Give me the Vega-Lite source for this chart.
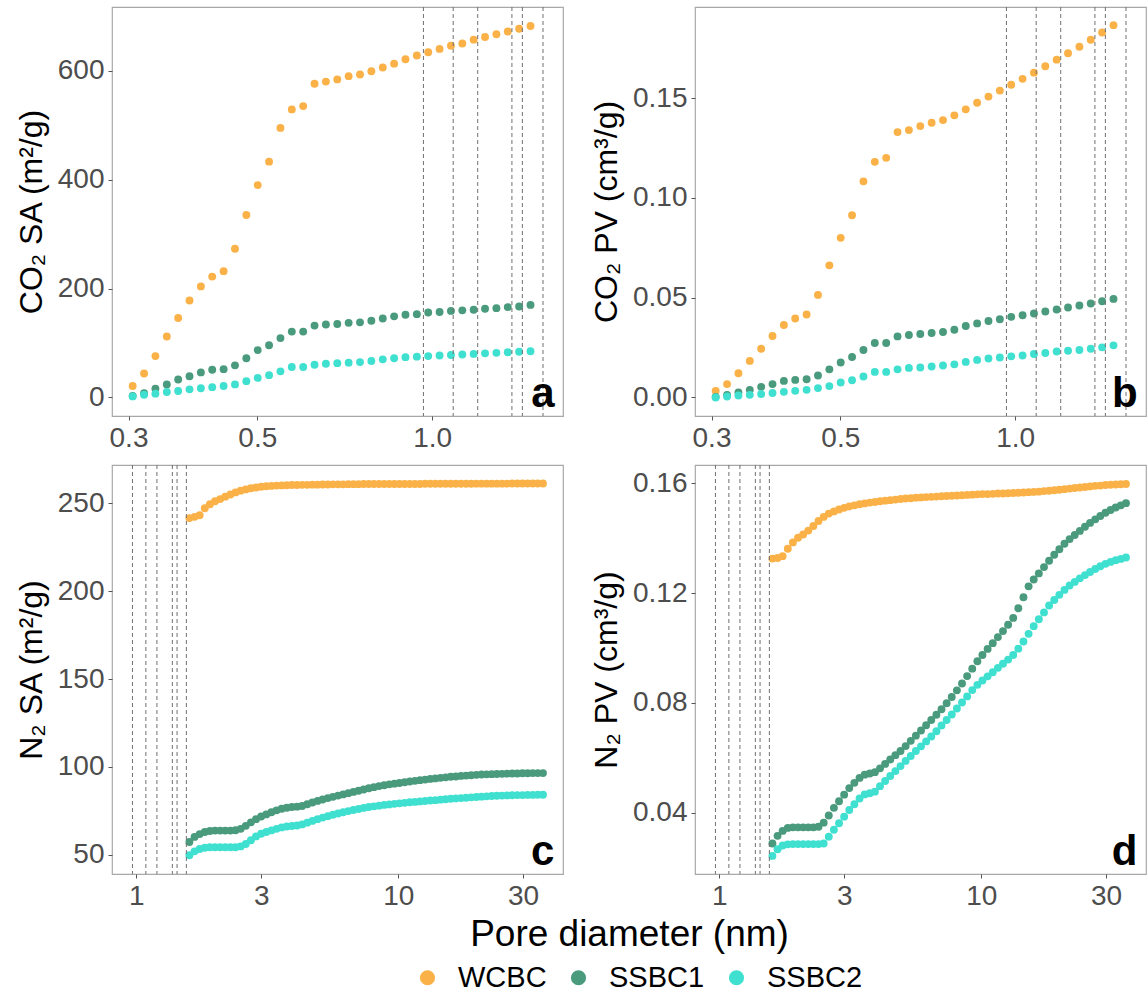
{
  "$schema": "https://vega.github.io/schema/vega-lite/v6.json",
  "padding": {"left": 14, "top": 5, "right": 0, "bottom": 0},
  "background": "white",
  "columns": 2,
  "spacing": {"row": 49, "column": 132},
  "bounds": "flush",
  "datasets": {
    "vlines": [{"d": 0.966}, {"d": 1.087}, {"d": 1.198}, {"d": 1.372}, {"d": 1.43}, {"d": 1.552}],
    "co2sa": [
      {"d":0.305,"WCBC":21,"SSBC1":3,"SSBC2":2},
      {"d":0.3191,"WCBC":44,"SSBC1":8,"SSBC2":5},
      {"d":0.3338,"WCBC":76,"SSBC1":16,"SSBC2":7},
      {"d":0.3492,"WCBC":112,"SSBC1":24,"SSBC2":10},
      {"d":0.3653,"WCBC":146,"SSBC1":33,"SSBC2":12},
      {"d":0.3821,"WCBC":178,"SSBC1":39,"SSBC2":15},
      {"d":0.3997,"WCBC":204,"SSBC1":46,"SSBC2":17},
      {"d":0.4181,"WCBC":222,"SSBC1":51,"SSBC2":19},
      {"d":0.4374,"WCBC":232,"SSBC1":52,"SSBC2":21},
      {"d":0.4576,"WCBC":273,"SSBC1":59,"SSBC2":24},
      {"d":0.4787,"WCBC":335,"SSBC1":72,"SSBC2":30},
      {"d":0.5007,"WCBC":390,"SSBC1":87,"SSBC2":36},
      {"d":0.5238,"WCBC":433,"SSBC1":96,"SSBC2":41},
      {"d":0.548,"WCBC":495,"SSBC1":109,"SSBC2":48},
      {"d":0.5732,"WCBC":529,"SSBC1":121,"SSBC2":56},
      {"d":0.5997,"WCBC":535,"SSBC1":121,"SSBC2":56},
      {"d":0.6273,"WCBC":576,"SSBC1":132,"SSBC2":60},
      {"d":0.6562,"WCBC":580,"SSBC1":134,"SSBC2":62},
      {"d":0.6865,"WCBC":584,"SSBC1":135,"SSBC2":63},
      {"d":0.7181,"WCBC":590,"SSBC1":137,"SSBC2":64},
      {"d":0.7512,"WCBC":593,"SSBC1":138,"SSBC2":65},
      {"d":0.7858,"WCBC":599,"SSBC1":141,"SSBC2":67},
      {"d":0.8221,"WCBC":606,"SSBC1":145,"SSBC2":70},
      {"d":0.86,"WCBC":613,"SSBC1":149,"SSBC2":72},
      {"d":0.8996,"WCBC":621,"SSBC1":152,"SSBC2":74},
      {"d":0.9411,"WCBC":628,"SSBC1":153,"SSBC2":75},
      {"d":0.9845,"WCBC":634,"SSBC1":156,"SSBC2":76},
      {"d":1.0299,"WCBC":640,"SSBC1":157,"SSBC2":77},
      {"d":1.0773,"WCBC":646,"SSBC1":159,"SSBC2":78},
      {"d":1.127,"WCBC":650,"SSBC1":160,"SSBC2":79},
      {"d":1.1789,"WCBC":657,"SSBC1":161,"SSBC2":80},
      {"d":1.2333,"WCBC":662,"SSBC1":163,"SSBC2":81},
      {"d":1.2901,"WCBC":667,"SSBC1":164,"SSBC2":82},
      {"d":1.3496,"WCBC":672,"SSBC1":166,"SSBC2":83},
      {"d":1.4118,"WCBC":677,"SSBC1":167,"SSBC2":84},
      {"d":1.4769,"WCBC":682,"SSBC1":170,"SSBC2":85}
    ],
    "co2pv": [
      {"d":0.305,"WCBC":0.0033,"SSBC1":0.0003,"SSBC2":0.0},
      {"d":0.3191,"WCBC":0.0067,"SSBC1":0.0013,"SSBC2":0.0005},
      {"d":0.3338,"WCBC":0.0121,"SSBC1":0.0025,"SSBC2":0.001},
      {"d":0.3492,"WCBC":0.0183,"SSBC1":0.0038,"SSBC2":0.0013},
      {"d":0.3653,"WCBC":0.0244,"SSBC1":0.0053,"SSBC2":0.0017},
      {"d":0.3821,"WCBC":0.0308,"SSBC1":0.0067,"SSBC2":0.0022},
      {"d":0.3997,"WCBC":0.0363,"SSBC1":0.0083,"SSBC2":0.0028},
      {"d":0.4181,"WCBC":0.0396,"SSBC1":0.0088,"SSBC2":0.0033},
      {"d":0.4374,"WCBC":0.0416,"SSBC1":0.0091,"SSBC2":0.0038},
      {"d":0.4576,"WCBC":0.0514,"SSBC1":0.011,"SSBC2":0.0047},
      {"d":0.4787,"WCBC":0.0662,"SSBC1":0.0141,"SSBC2":0.0057},
      {"d":0.5007,"WCBC":0.08,"SSBC1":0.0175,"SSBC2":0.0075},
      {"d":0.5238,"WCBC":0.0913,"SSBC1":0.0203,"SSBC2":0.0086},
      {"d":0.548,"WCBC":0.1083,"SSBC1":0.0238,"SSBC2":0.0105},
      {"d":0.5732,"WCBC":0.1181,"SSBC1":0.0273,"SSBC2":0.0128},
      {"d":0.5997,"WCBC":0.1201,"SSBC1":0.0273,"SSBC2":0.0128},
      {"d":0.6273,"WCBC":0.133,"SSBC1":0.0306,"SSBC2":0.0141},
      {"d":0.6562,"WCBC":0.134,"SSBC1":0.0313,"SSBC2":0.0148},
      {"d":0.6865,"WCBC":0.136,"SSBC1":0.0318,"SSBC2":0.015},
      {"d":0.7181,"WCBC":0.1377,"SSBC1":0.0323,"SSBC2":0.0155},
      {"d":0.7512,"WCBC":0.139,"SSBC1":0.0328,"SSBC2":0.016},
      {"d":0.7858,"WCBC":0.1414,"SSBC1":0.0339,"SSBC2":0.0166},
      {"d":0.8221,"WCBC":0.1444,"SSBC1":0.0358,"SSBC2":0.0178},
      {"d":0.86,"WCBC":0.1477,"SSBC1":0.0371,"SSBC2":0.0188},
      {"d":0.8996,"WCBC":0.1508,"SSBC1":0.0383,"SSBC2":0.0195},
      {"d":0.9411,"WCBC":0.1538,"SSBC1":0.0392,"SSBC2":0.02},
      {"d":0.9845,"WCBC":0.1567,"SSBC1":0.0404,"SSBC2":0.0206},
      {"d":1.0299,"WCBC":0.1597,"SSBC1":0.0412,"SSBC2":0.021},
      {"d":1.0773,"WCBC":0.1628,"SSBC1":0.0421,"SSBC2":0.0218},
      {"d":1.127,"WCBC":0.166,"SSBC1":0.0431,"SSBC2":0.0223},
      {"d":1.1789,"WCBC":0.1693,"SSBC1":0.0441,"SSBC2":0.023},
      {"d":1.2333,"WCBC":0.1725,"SSBC1":0.0451,"SSBC2":0.0234},
      {"d":1.2901,"WCBC":0.1758,"SSBC1":0.0461,"SSBC2":0.0238},
      {"d":1.3496,"WCBC":0.1793,"SSBC1":0.0471,"SSBC2":0.0244},
      {"d":1.4118,"WCBC":0.1829,"SSBC1":0.0482,"SSBC2":0.0251},
      {"d":1.4769,"WCBC":0.1866,"SSBC1":0.0494,"SSBC2":0.0261}
    ],
    "n2sa": [
      {"d":1.594,"WCBC":241.6,"SSBC1":57.3,"SSBC2":49.8},
      {"d":1.668,"WCBC":242.3,"SSBC1":60.2,"SSBC2":52.0},
      {"d":1.744,"WCBC":243.2,"SSBC1":61.8,"SSBC2":53.3},
      {"d":1.825,"WCBC":247.2,"SSBC1":63.0,"SSBC2":54.0},
      {"d":1.909,"WCBC":249.5,"SSBC1":63.6,"SSBC2":54.3},
      {"d":1.997,"WCBC":251.2,"SSBC1":63.8,"SSBC2":54.3},
      {"d":2.089,"WCBC":252.4,"SSBC1":63.8,"SSBC2":54.3},
      {"d":2.185,"WCBC":253.8,"SSBC1":63.8,"SSBC2":54.3},
      {"d":2.286,"WCBC":255.0,"SSBC1":63.8,"SSBC2":54.3},
      {"d":2.391,"WCBC":256.2,"SSBC1":64.0,"SSBC2":54.3},
      {"d":2.502,"WCBC":257.2,"SSBC1":64.8,"SSBC2":54.8},
      {"d":2.617,"WCBC":257.9,"SSBC1":66.5,"SSBC2":56.2},
      {"d":2.738,"WCBC":258.6,"SSBC1":68.5,"SSBC2":58.3},
      {"d":2.864,"WCBC":259.0,"SSBC1":70.3,"SSBC2":60.5},
      {"d":2.996,"WCBC":259.4,"SSBC1":71.8,"SSBC2":62.0},
      {"d":3.134,"WCBC":259.7,"SSBC1":73.0,"SSBC2":63.0},
      {"d":3.278,"WCBC":259.9,"SSBC1":74.2,"SSBC2":63.9},
      {"d":3.43,"WCBC":260.1,"SSBC1":75.3,"SSBC2":64.8},
      {"d":3.588,"WCBC":260.2,"SSBC1":76.2,"SSBC2":65.6},
      {"d":3.753,"WCBC":260.3,"SSBC1":76.8,"SSBC2":66.1},
      {"d":3.926,"WCBC":260.4,"SSBC1":77.2,"SSBC2":66.4},
      {"d":4.107,"WCBC":260.4,"SSBC1":77.4,"SSBC2":66.7},
      {"d":4.296,"WCBC":260.5,"SSBC1":77.8,"SSBC2":67.3},
      {"d":4.494,"WCBC":260.5,"SSBC1":78.8,"SSBC2":68.3},
      {"d":4.702,"WCBC":260.6,"SSBC1":79.8,"SSBC2":69.3},
      {"d":4.918,"WCBC":260.6,"SSBC1":80.7,"SSBC2":70.3},
      {"d":5.145,"WCBC":260.7,"SSBC1":81.5,"SSBC2":71.2},
      {"d":5.382,"WCBC":260.7,"SSBC1":82.3,"SSBC2":72.0},
      {"d":5.63,"WCBC":260.8,"SSBC1":83.0,"SSBC2":72.8},
      {"d":5.89,"WCBC":260.8,"SSBC1":83.7,"SSBC2":73.5},
      {"d":6.161,"WCBC":260.8,"SSBC1":84.4,"SSBC2":74.2},
      {"d":6.445,"WCBC":260.9,"SSBC1":85.1,"SSBC2":74.9},
      {"d":6.743,"WCBC":260.9,"SSBC1":85.8,"SSBC2":75.5},
      {"d":7.053,"WCBC":260.9,"SSBC1":86.5,"SSBC2":76.1},
      {"d":7.379,"WCBC":261.0,"SSBC1":87.2,"SSBC2":76.7},
      {"d":7.719,"WCBC":261.0,"SSBC1":87.9,"SSBC2":77.2},
      {"d":8.074,"WCBC":261.0,"SSBC1":88.5,"SSBC2":77.6},
      {"d":8.447,"WCBC":261.0,"SSBC1":89.1,"SSBC2":78.0},
      {"d":8.836,"WCBC":261.0,"SSBC1":89.6,"SSBC2":78.4},
      {"d":9.243,"WCBC":261.0,"SSBC1":90.1,"SSBC2":78.7},
      {"d":9.67,"WCBC":261.0,"SSBC1":90.5,"SSBC2":79.0},
      {"d":10.11,"WCBC":261.0,"SSBC1":90.9,"SSBC2":79.3},
      {"d":10.58,"WCBC":261.0,"SSBC1":91.3,"SSBC2":79.6},
      {"d":11.07,"WCBC":261.0,"SSBC1":91.7,"SSBC2":79.9},
      {"d":11.58,"WCBC":261.0,"SSBC1":92.1,"SSBC2":80.1},
      {"d":12.11,"WCBC":261.0,"SSBC1":92.5,"SSBC2":80.4},
      {"d":12.67,"WCBC":261.1,"SSBC1":92.8,"SSBC2":80.6},
      {"d":13.25,"WCBC":261.1,"SSBC1":93.2,"SSBC2":80.9},
      {"d":13.86,"WCBC":261.1,"SSBC1":93.5,"SSBC2":81.1},
      {"d":14.5,"WCBC":261.1,"SSBC1":93.8,"SSBC2":81.4},
      {"d":15.17,"WCBC":261.1,"SSBC1":94.1,"SSBC2":81.6},
      {"d":15.87,"WCBC":261.1,"SSBC1":94.4,"SSBC2":81.9},
      {"d":16.6,"WCBC":261.1,"SSBC1":94.6,"SSBC2":82.1},
      {"d":17.37,"WCBC":261.1,"SSBC1":94.9,"SSBC2":82.3},
      {"d":18.17,"WCBC":261.1,"SSBC1":95.1,"SSBC2":82.5},
      {"d":19.01,"WCBC":261.1,"SSBC1":95.3,"SSBC2":82.7},
      {"d":19.88,"WCBC":261.2,"SSBC1":95.5,"SSBC2":82.9},
      {"d":20.8,"WCBC":261.2,"SSBC1":95.7,"SSBC2":83.1},
      {"d":21.76,"WCBC":261.2,"SSBC1":95.8,"SSBC2":83.3},
      {"d":22.76,"WCBC":261.2,"SSBC1":95.9,"SSBC2":83.5},
      {"d":23.81,"WCBC":261.2,"SSBC1":96.0,"SSBC2":83.6},
      {"d":24.91,"WCBC":261.2,"SSBC1":96.1,"SSBC2":83.7},
      {"d":26.05,"WCBC":261.2,"SSBC1":96.2,"SSBC2":83.8},
      {"d":27.26,"WCBC":261.3,"SSBC1":96.3,"SSBC2":83.9},
      {"d":28.51,"WCBC":261.3,"SSBC1":96.3,"SSBC2":84.0},
      {"d":29.83,"WCBC":261.3,"SSBC1":96.4,"SSBC2":84.0},
      {"d":31.2,"WCBC":261.3,"SSBC1":96.4,"SSBC2":84.1},
      {"d":32.64,"WCBC":261.3,"SSBC1":96.5,"SSBC2":84.1},
      {"d":34.14,"WCBC":261.3,"SSBC1":96.5,"SSBC2":84.2},
      {"d":35.72,"WCBC":261.3,"SSBC1":96.5,"SSBC2":84.2}
    ],
    "n2pv": [
      {"d":1.594,"WCBC":0.1326,"SSBC1":0.0288,"SSBC2":0.0243},
      {"d":1.668,"WCBC":0.1328,"SSBC1":0.0316,"SSBC2":0.0267},
      {"d":1.744,"WCBC":0.1335,"SSBC1":0.0334,"SSBC2":0.0281},
      {"d":1.825,"WCBC":0.1362,"SSBC1":0.0345,"SSBC2":0.0285},
      {"d":1.909,"WCBC":0.1385,"SSBC1":0.0347,"SSBC2":0.0286},
      {"d":1.997,"WCBC":0.1402,"SSBC1":0.0347,"SSBC2":0.0286},
      {"d":2.089,"WCBC":0.1414,"SSBC1":0.0347,"SSBC2":0.0286},
      {"d":2.185,"WCBC":0.1428,"SSBC1":0.0347,"SSBC2":0.0286},
      {"d":2.286,"WCBC":0.1445,"SSBC1":0.0347,"SSBC2":0.0286},
      {"d":2.391,"WCBC":0.1463,"SSBC1":0.0349,"SSBC2":0.0286},
      {"d":2.502,"WCBC":0.1478,"SSBC1":0.0364,"SSBC2":0.0288},
      {"d":2.617,"WCBC":0.149,"SSBC1":0.039,"SSBC2":0.0313},
      {"d":2.738,"WCBC":0.1498,"SSBC1":0.0418,"SSBC2":0.0338},
      {"d":2.864,"WCBC":0.1505,"SSBC1":0.0442,"SSBC2":0.0362},
      {"d":2.996,"WCBC":0.1511,"SSBC1":0.0466,"SSBC2":0.0386},
      {"d":3.134,"WCBC":0.1516,"SSBC1":0.049,"SSBC2":0.041},
      {"d":3.278,"WCBC":0.152,"SSBC1":0.0509,"SSBC2":0.0431},
      {"d":3.43,"WCBC":0.1524,"SSBC1":0.0527,"SSBC2":0.0452},
      {"d":3.588,"WCBC":0.1527,"SSBC1":0.0539,"SSBC2":0.0467},
      {"d":3.753,"WCBC":0.153,"SSBC1":0.0543,"SSBC2":0.0471},
      {"d":3.926,"WCBC":0.1532,"SSBC1":0.0548,"SSBC2":0.0477},
      {"d":4.107,"WCBC":0.1535,"SSBC1":0.0562,"SSBC2":0.0497},
      {"d":4.296,"WCBC":0.1537,"SSBC1":0.0578,"SSBC2":0.0516},
      {"d":4.494,"WCBC":0.1539,"SSBC1":0.0594,"SSBC2":0.0534},
      {"d":4.702,"WCBC":0.1541,"SSBC1":0.061,"SSBC2":0.0552},
      {"d":4.918,"WCBC":0.1543,"SSBC1":0.0625,"SSBC2":0.057},
      {"d":5.145,"WCBC":0.1545,"SSBC1":0.0643,"SSBC2":0.0589},
      {"d":5.382,"WCBC":0.1546,"SSBC1":0.0662,"SSBC2":0.0607},
      {"d":5.63,"WCBC":0.1548,"SSBC1":0.0681,"SSBC2":0.0625},
      {"d":5.89,"WCBC":0.1549,"SSBC1":0.07,"SSBC2":0.0642},
      {"d":6.161,"WCBC":0.155,"SSBC1":0.0719,"SSBC2":0.066},
      {"d":6.445,"WCBC":0.1551,"SSBC1":0.0738,"SSBC2":0.0678},
      {"d":6.743,"WCBC":0.1552,"SSBC1":0.0757,"SSBC2":0.0697},
      {"d":7.053,"WCBC":0.1553,"SSBC1":0.0777,"SSBC2":0.0718},
      {"d":7.379,"WCBC":0.1554,"SSBC1":0.0799,"SSBC2":0.0738},
      {"d":7.719,"WCBC":0.1555,"SSBC1":0.0822,"SSBC2":0.0758},
      {"d":8.074,"WCBC":0.1556,"SSBC1":0.0846,"SSBC2":0.078},
      {"d":8.447,"WCBC":0.1557,"SSBC1":0.0871,"SSBC2":0.0802},
      {"d":8.836,"WCBC":0.1558,"SSBC1":0.0898,"SSBC2":0.0824},
      {"d":9.243,"WCBC":0.1559,"SSBC1":0.0925,"SSBC2":0.0847},
      {"d":9.67,"WCBC":0.156,"SSBC1":0.0952,"SSBC2":0.0866},
      {"d":10.11,"WCBC":0.1561,"SSBC1":0.0975,"SSBC2":0.0882},
      {"d":10.58,"WCBC":0.1561,"SSBC1":0.0997,"SSBC2":0.0897},
      {"d":11.07,"WCBC":0.1562,"SSBC1":0.1018,"SSBC2":0.0912},
      {"d":11.58,"WCBC":0.1563,"SSBC1":0.104,"SSBC2":0.0928},
      {"d":12.11,"WCBC":0.1563,"SSBC1":0.1062,"SSBC2":0.0943},
      {"d":12.67,"WCBC":0.1564,"SSBC1":0.1085,"SSBC2":0.0958},
      {"d":13.25,"WCBC":0.1565,"SSBC1":0.111,"SSBC2":0.0975},
      {"d":13.86,"WCBC":0.1566,"SSBC1":0.1145,"SSBC2":0.0998},
      {"d":14.5,"WCBC":0.1567,"SSBC1":0.1185,"SSBC2":0.1024},
      {"d":15.17,"WCBC":0.1568,"SSBC1":0.1225,"SSBC2":0.1052},
      {"d":15.87,"WCBC":0.1569,"SSBC1":0.125,"SSBC2":0.108},
      {"d":16.6,"WCBC":0.157,"SSBC1":0.1272,"SSBC2":0.1105},
      {"d":17.37,"WCBC":0.1572,"SSBC1":0.1295,"SSBC2":0.113},
      {"d":18.17,"WCBC":0.1573,"SSBC1":0.1318,"SSBC2":0.1155},
      {"d":19.01,"WCBC":0.1575,"SSBC1":0.134,"SSBC2":0.1175},
      {"d":19.88,"WCBC":0.1577,"SSBC1":0.136,"SSBC2":0.1194},
      {"d":20.8,"WCBC":0.1579,"SSBC1":0.138,"SSBC2":0.1212},
      {"d":21.76,"WCBC":0.1581,"SSBC1":0.1397,"SSBC2":0.1228},
      {"d":22.76,"WCBC":0.1583,"SSBC1":0.1412,"SSBC2":0.1241},
      {"d":23.81,"WCBC":0.1585,"SSBC1":0.1427,"SSBC2":0.1254},
      {"d":24.91,"WCBC":0.1587,"SSBC1":0.1442,"SSBC2":0.1266},
      {"d":26.05,"WCBC":0.1589,"SSBC1":0.1456,"SSBC2":0.1277},
      {"d":27.26,"WCBC":0.1591,"SSBC1":0.1469,"SSBC2":0.1288},
      {"d":28.51,"WCBC":0.1592,"SSBC1":0.1481,"SSBC2":0.1298},
      {"d":29.83,"WCBC":0.1594,"SSBC1":0.1493,"SSBC2":0.1307},
      {"d":31.2,"WCBC":0.1595,"SSBC1":0.1503,"SSBC2":0.1314},
      {"d":32.64,"WCBC":0.1596,"SSBC1":0.1512,"SSBC2":0.132},
      {"d":34.14,"WCBC":0.1597,"SSBC1":0.152,"SSBC2":0.1325},
      {"d":35.72,"WCBC":0.1598,"SSBC1":0.1528,"SSBC2":0.133}
    ]
  },
  "concat": [
    {
      "width": 451, "height": 409,
      "layer": [
        {
          "data": {"name": "co2sa"},
          "transform": [{"fold": ["WCBC", "SSBC1", "SSBC2"], "as": ["sample", "val"]}],
          "mark": {"type": "circle", "size": 62, "opacity": 1},
          "encoding": {
            "x": {"field": "d", "type": "quantitative", "scale": {"type": "log", "domain": [0.281, 1.68], "nice": false}, "axis": {"values": [0.3, 0.5, 1.0], "format": ".1f", "title": null}},
            "y": {"field": "val", "type": "quantitative", "scale": {"domain": [-34, 717], "nice": false, "zero": false}, "axis": {"values": [0, 200, 400, 600], "title": "CO₂ SA (m²/g)"}},
            "color": {"field": "sample", "type": "nominal", "scale": {"domain": ["WCBC", "SSBC1", "SSBC2"], "range": ["#FAB248", "#4A9A7D", "#40E0D0"]}, "legend": {"orient": "none", "legendX": 301, "legendY": 956, "direction": "horizontal", "title": null}}
          }
        },
        {
          "data": {"name": "vlines"},
          "mark": {"type": "rule", "color": "#707070", "strokeDash": [4, 3], "strokeWidth": 1},
          "encoding": {"x": {"field": "d", "type": "quantitative"}}
        },
        {
          "data": {"values": [{"lab": "a"}]},
          "mark": {"type": "text", "fontSize": 42, "fontWeight": "bold", "align": "right", "baseline": "alphabetic", "color": "#000"},
          "encoding": {"x": {"datum": 1.625}, "y": {"datum": -17.5}, "text": {"field": "lab"}}
        }
      ]
    },
    {
      "width": 451, "height": 409,
      "layer": [
        {
          "data": {"name": "co2pv"},
          "transform": [{"fold": ["WCBC", "SSBC1", "SSBC2"], "as": ["sample", "val"]}],
          "mark": {"type": "circle", "size": 62, "opacity": 1},
          "encoding": {
            "x": {"field": "d", "type": "quantitative", "scale": {"type": "log", "domain": [0.281, 1.68], "nice": false}, "axis": {"values": [0.3, 0.5, 1.0], "format": ".1f", "title": null}},
            "y": {"field": "val", "type": "quantitative", "scale": {"domain": [-0.0093, 0.1957], "nice": false, "zero": false}, "axis": {"values": [0, 0.05, 0.1, 0.15], "format": ".2f", "title": "CO₂ PV (cm³/g)"}},
            "color": {"field": "sample", "type": "nominal", "scale": {"domain": ["WCBC", "SSBC1", "SSBC2"], "range": ["#FAB248", "#4A9A7D", "#40E0D0"]}}
          }
        },
        {
          "data": {"name": "vlines"},
          "mark": {"type": "rule", "color": "#707070", "strokeDash": [4, 3], "strokeWidth": 1},
          "encoding": {"x": {"field": "d", "type": "quantitative"}}
        },
        {
          "data": {"values": [{"lab": "b"}]},
          "mark": {"type": "text", "fontSize": 42, "fontWeight": "bold", "align": "right", "baseline": "alphabetic", "color": "#000"},
          "encoding": {"x": {"datum": 1.625}, "y": {"datum": -0.0048}, "text": {"field": "lab"}}
        }
      ]
    },
    {
      "width": 451, "height": 409,
      "layer": [
        {
          "data": {"name": "n2sa"},
          "transform": [{"fold": ["WCBC", "SSBC1", "SSBC2"], "as": ["sample", "val"]}],
          "mark": {"type": "circle", "size": 62, "opacity": 1},
          "encoding": {
            "x": {"field": "d", "type": "quantitative", "scale": {"type": "log", "domain": [0.807, 42.6], "nice": false}, "axis": {"values": [1, 3, 10, 30], "format": "d", "title": "Pore diameter (nm)", "titleX": 517, "titleY": 71, "titleBaseline": "alphabetic", "titleFontSize": 37, "titleAnchor": null}},
            "y": {"field": "val", "type": "quantitative", "scale": {"domain": [39.1, 271.8], "nice": false, "zero": false}, "axis": {"values": [50, 100, 150, 200, 250], "title": "N₂ SA (m²/g)"}},
            "color": {"field": "sample", "type": "nominal", "scale": {"domain": ["WCBC", "SSBC1", "SSBC2"], "range": ["#FAB248", "#4A9A7D", "#40E0D0"]}}
          }
        },
        {
          "data": {"name": "vlines"},
          "mark": {"type": "rule", "color": "#707070", "strokeDash": [4, 3], "strokeWidth": 1},
          "encoding": {"x": {"field": "d", "type": "quantitative"}}
        },
        {
          "data": {"values": [{"lab": "c"}]},
          "mark": {"type": "text", "fontSize": 42, "fontWeight": "bold", "align": "right", "baseline": "alphabetic", "color": "#000"},
          "encoding": {"x": {"datum": 39.5}, "y": {"datum": 44.2}, "text": {"field": "lab"}}
        }
      ]
    },
    {
      "width": 451, "height": 409,
      "layer": [
        {
          "data": {"name": "n2pv"},
          "transform": [{"fold": ["WCBC", "SSBC1", "SSBC2"], "as": ["sample", "val"]}],
          "mark": {"type": "circle", "size": 62, "opacity": 1},
          "encoding": {
            "x": {"field": "d", "type": "quantitative", "scale": {"type": "log", "domain": [0.807, 42.6], "nice": false}, "axis": {"values": [1, 3, 10, 30], "format": "d", "title": null}},
            "y": {"field": "val", "type": "quantitative", "scale": {"domain": [0.0177, 0.1667], "nice": false, "zero": false}, "axis": {"values": [0.04, 0.08, 0.12, 0.16], "format": ".2f", "title": "N₂ PV (cm³/g)"}},
            "color": {"field": "sample", "type": "nominal", "scale": {"domain": ["WCBC", "SSBC1", "SSBC2"], "range": ["#FAB248", "#4A9A7D", "#40E0D0"]}}
          }
        },
        {
          "data": {"name": "vlines"},
          "mark": {"type": "rule", "color": "#707070", "strokeDash": [4, 3], "strokeWidth": 1},
          "encoding": {"x": {"field": "d", "type": "quantitative"}}
        },
        {
          "data": {"values": [{"lab": "d"}]},
          "mark": {"type": "text", "fontSize": 42, "fontWeight": "bold", "align": "right", "baseline": "alphabetic", "color": "#000"},
          "encoding": {"x": {"datum": 39.5}, "y": {"datum": 0.021}, "text": {"field": "lab"}}
        }
      ]
    }
  ],
  "config": {
    "font": "Liberation Sans",
    "view": {"stroke": "#a8a8a8", "strokeWidth": 1.2},
    "axis": {
      "grid": false, "domain": false,
      "tickColor": "#555555", "tickSize": 4, "tickWidth": 1,
      "labelFont": "Liberation Sans", "labelFontSize": 28, "labelColor": "#4d4d4d", "labelPadding": 4,
      "titleFont": "Liberation Sans", "titleFontSize": 32, "titleFontWeight": "normal", "titleColor": "#000000", "titlePadding": 9
    },
    "legend": {
      "labelFont": "Liberation Sans", "labelFontSize": 29, "labelColor": "#000000",
      "symbolType": "circle", "symbolSize": 230, "symbolStrokeWidth": 0, "symbolOpacity": 1,
      "labelOffset": 16, "columnPadding": 17
    }
  }
}
